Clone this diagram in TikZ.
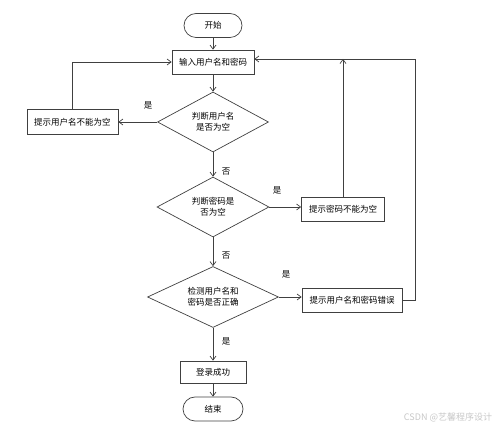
\documentclass[tikz,border=0pt]{standalone}
\usepackage{fontspec}
\setmainfont{Noto Sans CJK SC}
\usetikzlibrary{shapes.geometric}
\usetikzlibrary{arrows.meta}
\tikzset{line/.style={draw=black!75, line width=0.7pt},
    arr/.style={line, -{Straight Barb[length=4pt,width=6pt]}},
    terminal/.style={draw=black!75, line width=0.7pt, rounded corners=12pt, minimum width=58pt, minimum height=24pt, inner sep=0pt},
    proc/.style={draw=black!75, line width=0.7pt, minimum height=24pt, inner sep=0pt},
    decide/.style={diamond, aspect=1.85, draw=black!75, line width=0.7pt, inner sep=0pt, align=center},
    lbl/.style={font=\fontsize{8.5}{10}\selectfont},
    every node/.append style={font=\fontsize{8.5}{11}\selectfont}}

\begin{document}
\begin{tikzpicture}
        \useasboundingbox (0,0) rectangle (499pt,-427pt);
        \node[terminal] (start) at (213pt,-25.5pt) {开始};
        \node[proc, minimum width=82pt, below of=start, node distance=36.5pt] (input) {输入用户名和密码};
        \node[decide, minimum width=111pt, minimum height=60pt, below of=input, node distance=60pt] (chkuser) {判断用户名\\是否为空};
        \node[decide, minimum width=112pt, minimum height=60pt, below of=chkuser, node distance=85pt] (chkpwd) {判断密码是\\否为空};
        \node[decide, minimum width=131pt, minimum height=61pt, below of=chkpwd, node distance=90pt] (chkboth) {检测用户名和\\密码是否正确};
        \node[proc, minimum width=66pt, minimum height=22pt, below of=chkboth, node distance=75pt] (ok) {登录成功};
        \node[terminal, minimum width=60pt, below of=ok, node distance=37pt] (end) {结束};
        \node[proc, minimum width=91pt, minimum height=25pt, left of=chkuser, node distance=140.5pt] (usererr) {提示用户名不能为空};
        \node[proc, minimum width=83pt, right of=chkpwd, node distance=130pt, yshift=-2pt] (pwderr) {提示密码不能为空};
        \node[proc, minimum width=100pt, right of=chkboth, node distance=139pt, yshift=-3pt] (bad) {提示用户名和密码错误};
        \coordinate (back) at (415pt,-59pt);
        \draw[arr] (start) -- (input);
        \draw[arr] (input) -- (chkuser);
        \draw[arr] (chkuser.west) -- (usererr.east);
        \draw[arr] (usererr.north) |- (input.west);
        \draw[arr] (chkuser.south) -- (chkpwd.north);
        \draw[arr] (chkpwd.east) -- (pwderr.west |- chkpwd.east);
        \draw[arr] (pwderr.north) -- (pwderr.north |- back);
        \draw[arr] (chkpwd.south) -- (chkboth.north);
        \draw[arr] (chkboth.east) -- (bad.west |- chkboth.east);
        \draw[line] (bad.east) -| (back);
        \draw[arr] (back) -- (input.east |- back);
        \draw[arr] (chkboth.south) -- (ok);
        \draw[arr] (ok) -- (end);
        % branch labels
        \node[lbl] (y1) at (148pt,-105pt) {是};
        \node[lbl] (n1) at (226pt,-172pt) {否};
        \node[lbl] (y2) at (277pt,-190pt) {是};
        \node[lbl] (n2) at (226pt,-256pt) {否};
        \node[lbl] (y3) at (286pt,-274pt) {是};
        \node[lbl] (y4) at (226pt,-341pt) {是};
        \node[text=black!22, font=\fontsize{9}{10}\selectfont] (mark) at (448pt,-417pt) {CSDN @艺馨程序设计};
    \end{tikzpicture}
\end{document}
